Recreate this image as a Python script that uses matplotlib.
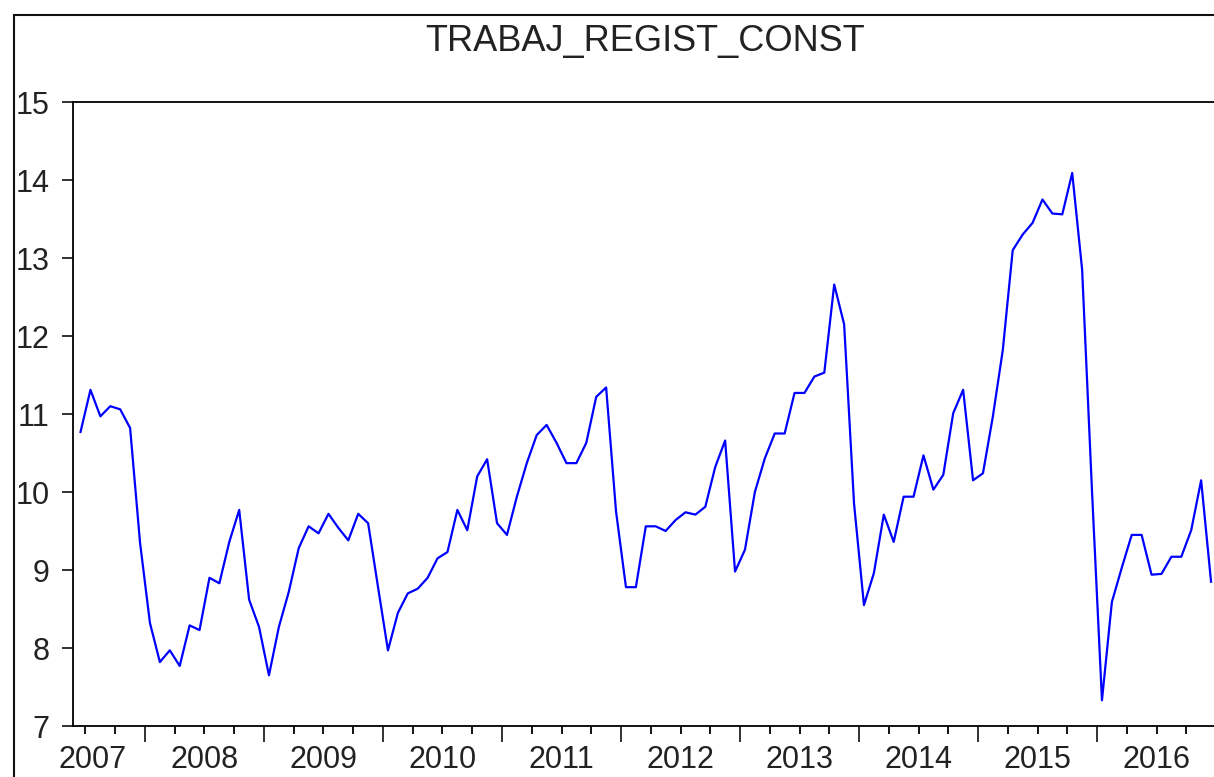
import matplotlib
matplotlib.use("Agg")
import matplotlib.pyplot as plt
import matplotlib.transforms as mtransforms
from matplotlib.patches import Rectangle
import numpy as np

# monthly series, Jun 2007 .. Dec 2016
start_year, start_month = 2007, 6
values = [
    10.77, 11.31, 10.97, 11.10, 11.06, 10.82, 9.35,                          # 2007
    8.32, 7.82, 7.97, 7.77, 8.29, 8.23, 8.90, 8.83, 9.36, 9.77, 8.62, 8.27,  # 2008
    7.65, 8.27, 8.72, 9.28, 9.56, 9.47, 9.72, 9.54, 9.38, 9.72, 9.60, 8.78,  # 2009
    7.97, 8.45, 8.70, 8.76, 8.90, 9.15, 9.23, 9.77, 9.51, 10.20, 10.42, 9.60,  # 2010
    9.45, 9.94, 10.37, 10.73, 10.86, 10.63, 10.37, 10.37, 10.63, 11.22, 11.34, 9.75,  # 2011
    8.78, 8.78, 9.56, 9.56, 9.50, 9.64, 9.74, 9.71, 9.81, 10.32, 10.66, 8.98,  # 2012
    9.26, 10.00, 10.43, 10.75, 10.75, 11.27, 11.27, 11.48, 11.53, 12.66, 12.15, 9.85,  # 2013
    8.55, 8.96, 9.71, 9.36, 9.94, 9.94, 10.47, 10.03, 10.22, 11.01, 11.31, 10.15,  # 2014
    10.24, 10.97, 11.82, 13.10, 13.30, 13.45, 13.75, 13.57, 13.56, 14.09, 12.85, 10.00,  # 2015
    7.33, 8.59, 9.03, 9.45, 9.45, 8.94, 8.95, 9.17, 9.17, 9.51, 10.15, 8.85,  # 2016
]
years = list(range(2007, 2017))
title = "TRABAJ_REGIST_CONST"

plt.rcParams["font.family"] = ["Liberation Sans", "DejaVu Sans"]

W, H = 1214, 777
fig = plt.figure(figsize=(W / 100, H / 100), dpi=100)
ax = fig.add_axes([73 / W, (H - 726) / H, (1217 - 73) / W, (726 - 102) / H])

# x in months since Jan 2007, observations drawn mid-month
first = (start_year - 2007) * 12 + (start_month - 1)
x = np.arange(first, first + len(values)) + 0.5
ax.plot(x, values, color="#0000ff", lw=1.6)

xmin, xmax = 4.74, 120.1
ax.set_xticks([(y - 2007) * 12 for y in years[1:]])
ax.set_xticks([m for m in range(3, 121, 3) if m % 12 and xmin < m < xmax],
              minor=True)
ax.set_xticklabels([])
ax.set_yticks(range(7, 16))
# limits after the ticks, set_xticks would widen the view otherwise
ax.set_xlim(xmin, xmax)
ax.set_ylim(7, 15)

ax.tick_params(axis="x", which="major", direction="out", length=11.5, width=1.3)
ax.tick_params(axis="x", which="minor", direction="out", length=5.8, width=1.3)
ax.tick_params(axis="y", direction="out", length=8, width=1.3, labelsize=22, pad=9)

trans = mtransforms.blended_transform_factory(ax.transData, ax.transAxes)
for y in years:
    cx = max((y - 2007) * 12 + 6, xmin + 2)
    ax.text(cx, -19 / 624, str(y), transform=trans, ha="center", va="top",
            fontsize=22, color="#222222")

for side in ("left", "top", "bottom", "right"):
    ax.spines[side].set_linewidth(1.3)

ax.set_title(title, fontsize=26, pad=37, color="#222222")
ax.tick_params(colors="#222222", labelcolor="#222222")

# outer frame of the exported graph
fig.add_artist(Rectangle((14 / W, -0.1), 2, 1 - 15 / H + 0.1,
                         transform=fig.transFigure, fill=False, lw=1.5,
                         edgecolor="#111111"))

fig.savefig("out.png", dpi=100)
